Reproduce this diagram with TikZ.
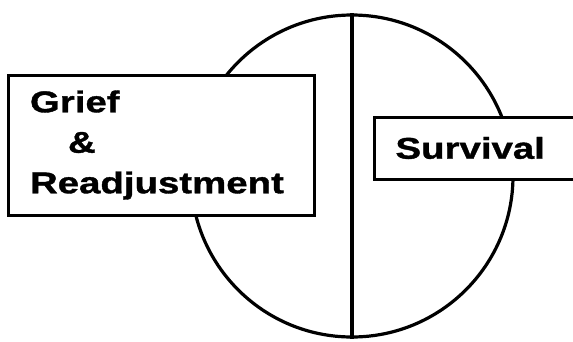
\documentclass[tikz,border=0pt]{standalone}
\usepackage{fontspec}
\newfontfamily\boxfont[FakeStretch=1.28,FakeBold=1.2]{Liberation Sans Bold}
\usepackage{tikz}

\begin{document}
\begin{tikzpicture}[x=1pt,y=-1pt,
    box/.style={draw,line width=3pt,fill=white,font=\boxfont\fontsize{30}{40.5}\selectfont,align=left}]
    \useasboundingbox (0,0) rectangle (573,341);
    \clip (0,0) rectangle (573,341);

    % circle and its split
    \node[draw,circle,line width=3.2pt,minimum size=322pt,inner sep=0pt] (whole) at (352,176) {};
    \draw[line width=3.2pt] (whole.north) -- (whole.south);

    % left box
    \node[box,minimum width=306pt,minimum height=140pt,text width=262pt,inner xsep=22pt] (grief) at (161,145)
        {Grief\\\hspace{38pt}\&\\Readjustment};

    % right box
    \node[box,anchor=west,minimum height=62pt,text width=200pt,inner xsep=21pt] (survival) at (373,148) {Survival};
\end{tikzpicture}
\end{document}
